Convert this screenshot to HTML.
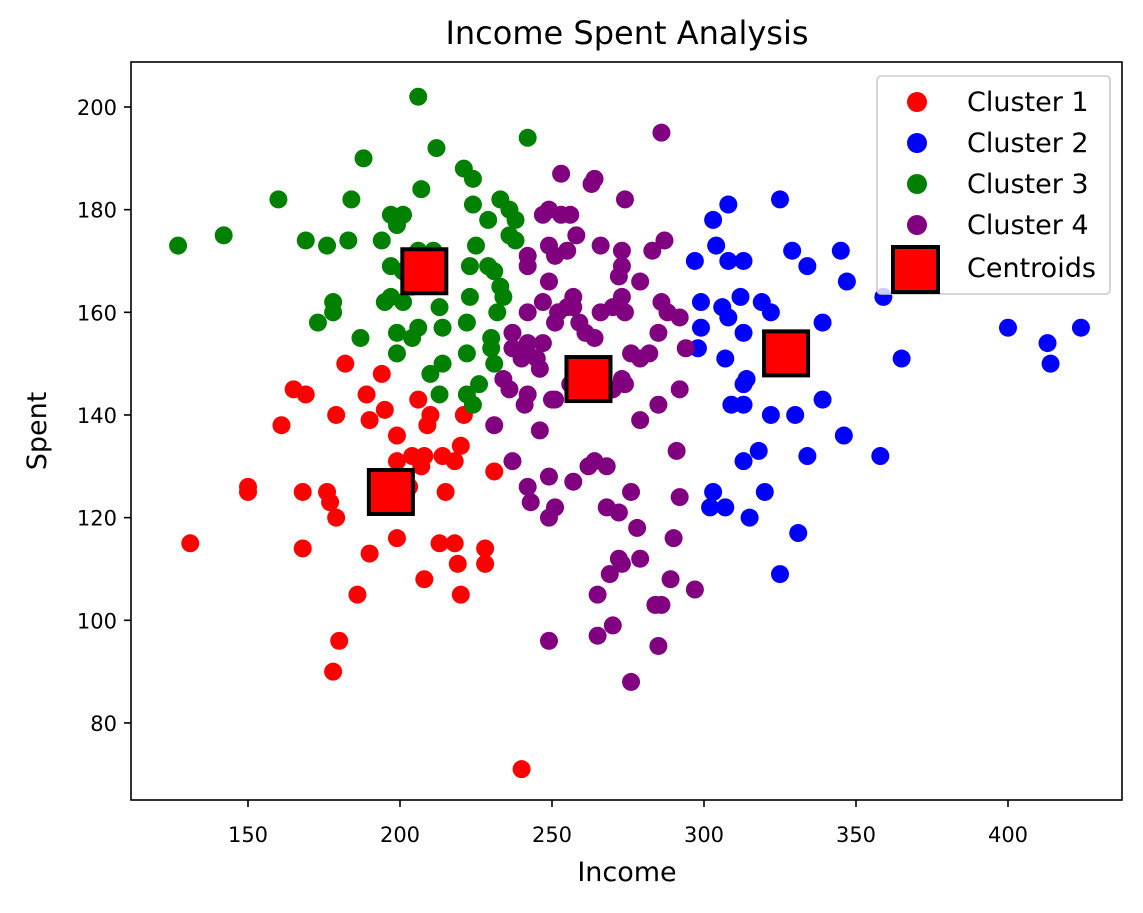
<!DOCTYPE html>
<html><head><meta charset="utf-8"><style>
body{margin:0;background:#fff}
svg text{font-family:"DejaVu Sans","Liberation Sans",sans-serif;fill:#000}
</style></head><body>
<svg id="chart" width="1143" height="908" xmlns="http://www.w3.org/2000/svg">
<rect width="1143" height="908" fill="#fff"/>
<text x="627" y="44" font-size="32" text-anchor="middle">Income Spent Analysis</text>
<g id="marks"></g>
<rect x="131" y="62" width="991" height="738" fill="none" stroke="#000" stroke-width="1.6"/>
<g id="axes"></g>
<text x="627" y="881" font-size="27" text-anchor="middle">Income</text>
<text x="46" y="431" font-size="27" text-anchor="middle" transform="rotate(-90 46 431)">Spent</text>
<g id="legend">
<rect x="877" y="76" width="233" height="218" rx="4" fill="#fff" fill-opacity="0.8" stroke="#ccc" stroke-width="1.6"/>
<circle cx="917" cy="102" r="10" fill="red"/>
<text x="967" y="111" font-size="27">Cluster 1</text>
<circle cx="917" cy="143" r="10" fill="blue"/>
<text x="967" y="152" font-size="27">Cluster 2</text>
<circle cx="917" cy="184" r="10" fill="green"/>
<text x="967" y="193" font-size="27">Cluster 3</text>
<circle cx="917" cy="225" r="10" fill="purple"/>
<text x="967" y="234" font-size="27">Cluster 4</text>
<rect x="893" y="247" width="45" height="45" fill="red" stroke="#000" stroke-width="4"/>
<text x="967" y="277" font-size="27">Centroids</text>
</g>
</svg>
<script>
const xTicks=[150,200,250,300,350,400];
const yTicks=[80,100,120,140,160,180,200];
const cluster1=[[131,115],[150,126],[150,125],[161,138],[165,145],[169,144],[168,125],[168,114],[176,125],[177,123],[179,120],[179,140],[182,150],[178,90],[180,96],[186,105],[190,113],[189,144],[190,139],[194,148],[195,141],[199,136],[199,131],[199,116],[203,126],[206,143],[210,140],[209,138],[204,132],[207,130],[208,132],[208,108],[213,115],[215,125],[214,132],[218,131],[218,115],[219,111],[220,105],[220,134],[221,140],[228,114],[228,111],[231,129],[240,71]];
const cluster2=[[297,170],[299,162],[299,157],[298,153],[303,178],[304,173],[308,181],[308,170],[313,170],[306,161],[308,159],[312,163],[307,151],[313,156],[313,146],[314,147],[309,142],[313,142],[313,131],[318,133],[320,125],[315,120],[303,125],[302,122],[307,122],[319,162],[322,160],[322,140],[325,182],[329,172],[334,169],[330,140],[334,132],[331,117],[325,109],[339,158],[339,143],[345,172],[347,166],[346,136],[359,163],[358,132],[365,151],[400,157],[413,154],[414,150],[424,157]];
const cluster3=[[127,173],[142,175],[160,182],[169,174],[176,173],[178,162],[178,160],[173,158],[183,174],[184,182],[188,190],[187,155],[194,174],[195,162],[197,179],[199,177],[201,179],[197,169],[199,152],[197,163],[201,168],[201,162],[199,156],[204,155],[206,157],[204,165],[206,172],[206,202],[207,184],[212,192],[211,172],[210,148],[213,144],[214,150],[214,157],[213,161],[221,188],[224,186],[224,181],[225,173],[223,169],[229,169],[223,163],[222,158],[222,152],[222,144],[224,142],[226,146],[230,155],[230,153],[229,178],[231,168],[233,165],[234,163],[232,160],[233,182],[236,180],[238,178],[236,175],[238,174],[242,194],[231,150]];
const cluster4=[[286,195],[253,187],[264,186],[263,185],[274,182],[247,179],[249,180],[253,179],[256,179],[258,175],[242,171],[242,169],[249,173],[251,171],[255,172],[266,173],[273,172],[272,167],[273,169],[279,166],[283,172],[287,174],[249,166],[247,162],[242,160],[237,156],[237,153],[242,154],[247,154],[245,151],[242,152],[240,151],[246,149],[234,147],[236,145],[231,138],[251,158],[252,160],[255,161],[257,163],[257,161],[259,158],[261,156],[264,155],[266,160],[270,161],[273,163],[274,160],[276,152],[279,151],[282,152],[285,156],[286,162],[288,160],[292,159],[294,153],[292,145],[242,144],[241,142],[250,143],[251,143],[256,146],[262,147],[264,145],[270,145],[273,147],[274,146],[279,139],[285,142],[237,131],[246,137],[249,128],[257,127],[262,130],[264,131],[268,130],[276,125],[242,126],[243,123],[249,120],[251,122],[268,122],[272,121],[278,118],[291,133],[292,124],[290,116],[272,112],[273,111],[279,112],[269,109],[270,99],[265,97],[265,105],[284,103],[286,103],[289,108],[297,106],[285,95],[249,96],[276,88]];
const centroids=[[197,125],[208,168],[262,147],[327,152]];
const X=v=>248+(v-150)*3.04;
const Y=v=>107+(200-v)*5.133;
const NS='http://www.w3.org/2000/svg';
const marks=document.getElementById('marks'),axes=document.getElementById('axes');
function mk(t,a,p){const e=document.createElementNS(NS,t);for(const k in a)e.setAttribute(k,a[k]);p.appendChild(e);return e;}
[[cluster1,'red','cluster-1'],[cluster2,'blue','cluster-2'],[cluster3,'green','cluster-3'],[cluster4,'purple','cluster-4']].forEach(([d,c,n])=>{
 d.forEach(p=>{const e=mk('circle',{cx:X(p[0]),cy:Y(p[1]),r:9,fill:c},marks);
 
 });
});
centroids.forEach(p=>{const e=mk('rect',{x:X(p[0])-22,y:Y(p[1])-22,width:44,height:44,fill:'red',stroke:'#000','stroke-width':4},marks);
 
 });
xTicks.forEach(t=>{const x=X(t);mk('line',{x1:x,x2:x,y1:800,y2:807,stroke:'#000','stroke-width':1.6},axes);
 const e=mk('text',{x:x,y:842,'font-size':21,'text-anchor':'middle'},axes);e.textContent=t;
 
 });
yTicks.forEach(t=>{const y=Y(t);mk('line',{x1:124,x2:131,y1:y,y2:y,stroke:'#000','stroke-width':1.6},axes);
 const e=mk('text',{x:117,y:y+8,'font-size':21,'text-anchor':'end'},axes);e.textContent=t;
 
 });
</script>
</body></html>
